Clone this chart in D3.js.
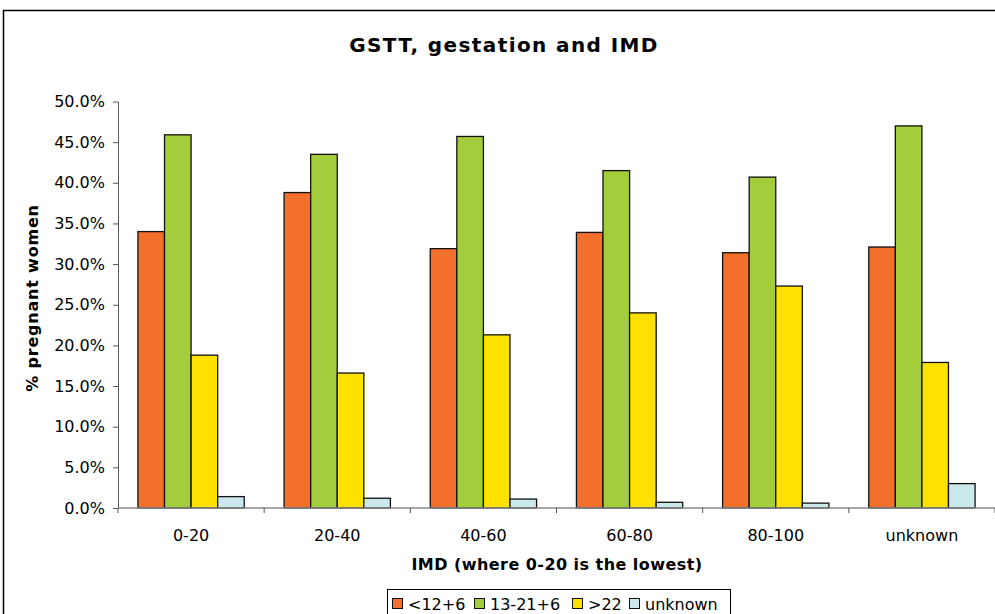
<!DOCTYPE html>
<html>
<head>
<meta charset="utf-8">
<script src="https://cdn.jsdelivr.net/npm/d3@7"></script>
<style>
  body { margin: 0; background: #fff; }
  text { font-family: "DejaVu Sans", Verdana, sans-serif; }
</style>
</head>
<body>
<div id="renderer"></div>
<script>
// data (fractions)
var categories = ['0-20', '20-40', '40-60', '60-80', '80-100', 'unknown'];
var seriesNames = ['<12+6', '13-21+6', '>22', 'unknown'];
var early = [0.340, 0.388, 0.319, 0.339, 0.314, 0.321];
var mid = [0.459, 0.435, 0.457, 0.415, 0.407, 0.470];
var late = [0.188, 0.166, 0.213, 0.240, 0.273, 0.179];
var unknownGest = [0.014, 0.012, 0.011, 0.007, 0.006, 0.030];
var yTicks = [0, 0.05, 0.10, 0.15, 0.20, 0.25, 0.30, 0.35, 0.40, 0.45, 0.50];
var colors = ['#F26F2C', '#A4CD3B', '#FFE100', '#CBE8EC'];

var series = [early, mid, late, unknownGest];

var width = 995, height = 614;
var plotLeft = 118, plotRight = 995, plotTop = 101.5, plotBottom = 508;

var root = d3.select('#renderer').append('svg')
    .attr('width', width)
    .attr('height', height);

// outer frame (runs past the right and bottom edge)
root.append('rect')
    .attr('x', 3.5).attr('y', 10.5)
    .attr('width', 1100).attr('height', 700)
    .attr('fill', 'none').attr('stroke', '#000').attr('stroke-width', 1.5);

root.append('text')
    .attr('x', 504).attr('y', 52)
    .attr('text-anchor', 'middle')
    .style('font-size', '20px').style('font-weight', 'bold')
    .style('letter-spacing', '1.4px')
    .text('GSTT, gestation and IMD');

var x = d3.scaleBand().domain(categories).range([plotLeft, plotRight]).padding(0);
var xs = d3.scaleBand().domain(d3.range(seriesNames.length))
    .range([0, x.bandwidth()]).paddingInner(0).paddingOuter(0.75);
var y = d3.scaleLinear().domain([0, 0.5]).range([plotBottom, plotTop]);

// bars
for (var s = 0; s < series.length; s++) {
    root.append('g').selectAll('rect')
        .data(series[s])
        .enter().append('rect')
        .attr('x', function(d, i){ return x(categories[i]) + xs(s); })
        .attr('y', function(d){ return y(d); })
        .attr('width', xs.bandwidth())
        .attr('height', function(d){ return plotBottom - y(d); })
        .attr('fill', colors[s])
        .attr('stroke', '#111')
        .attr('stroke-width', 1.3);
}

// y axis
var yAxis = root.append('g')
    .attr('transform', 'translate(' + plotLeft + ',0)')
    .call(d3.axisLeft(y).tickValues(yTicks).tickFormat(d3.format('.1%')).tickSize(5).tickPadding(8).tickSizeOuter(0));
yAxis.select('.domain').attr('stroke', '#555');
yAxis.selectAll('line').attr('stroke', '#555');
yAxis.selectAll('text').style('font-size', '16px').attr('fill', '#000');

// x axis: labels centred, ticks between categories
var xAxis = root.append('g')
    .attr('transform', 'translate(0,' + plotBottom + ')')
    .call(d3.axisBottom(x).tickSize(0).tickPadding(0).tickSizeOuter(0));
xAxis.select('.domain').remove();
xAxis.selectAll('text').attr('y', 32.5).attr('dy', null).style('font-size', '16px').attr('fill', '#000');
root.append('line')
    .attr('x1', plotLeft).attr('x2', plotRight)
    .attr('y1', plotBottom).attr('y2', plotBottom)
    .attr('stroke', '#888').attr('stroke-width', 1.3);
root.append('g').selectAll('line')
    .data(categories.concat(['end']))
    .enter().append('line')
    .attr('x1', function(d, i){ return plotLeft + i * x.step(); })
    .attr('x2', function(d, i){ return plotLeft + i * x.step(); })
    .attr('y1', plotBottom).attr('y2', plotBottom + 5)
    .attr('stroke', '#555');

// axis titles
root.append('text')
    .attr('transform', 'translate(38,298) rotate(-90)')
    .attr('text-anchor', 'middle')
    .style('font-size', '16px').style('font-weight', 'bold')
    .style('letter-spacing', '0.8px')
    .text('% pregnant women');

root.append('text')
    .attr('x', 557).attr('y', 570)
    .attr('text-anchor', 'middle')
    .style('font-size', '16px').style('font-weight', 'bold')
    .style('letter-spacing', '0.45px')
    .text('IMD (where 0-20 is the lowest)');

// legend
var legend = root.append('g');
legend.append('rect')
    .attr('x', 387.5).attr('y', 589.5)
    .attr('width', 343).attr('height', 40)
    .attr('fill', '#fff').attr('stroke', '#000');
var legX = [392, 474, 572, 629];
for (var k = 0; k < seriesNames.length; k++) {
    legend.append('rect')
        .attr('x', legX[k] + 0.5).attr('y', 598.5)
        .attr('width', 10).attr('height', 10)
        .attr('fill', colors[k]).attr('stroke', '#111');
    legend.append('text')
        .attr('x', legX[k] + 16).attr('y', 609.5)
        .style('font-size', '16px')
        .text(seriesNames[k]);
}
</script>
</body>
</html>
